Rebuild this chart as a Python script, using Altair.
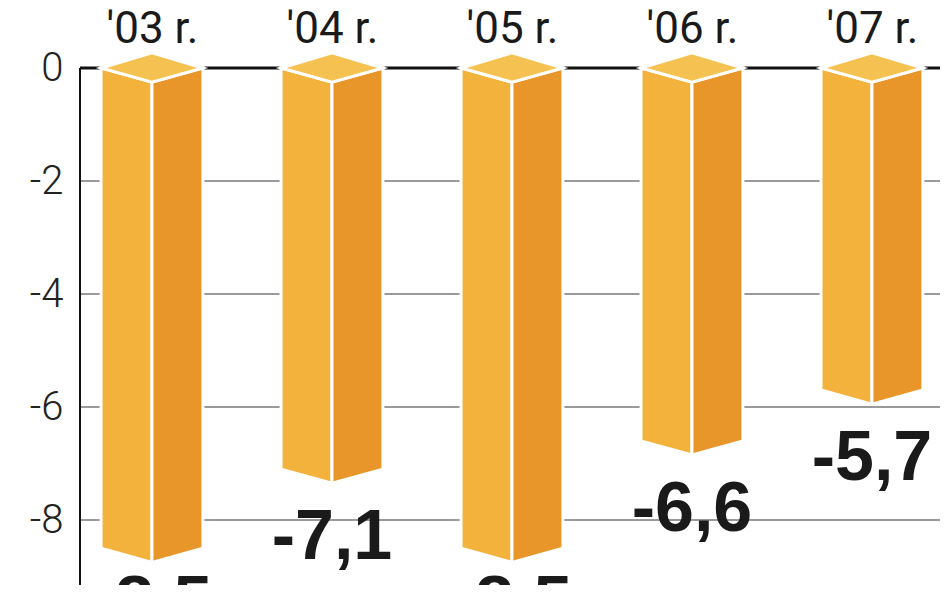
import json
import altair as alt
import pandas as pd

# ---- data ----
years = ["'03 r.", "'04 r.", "'05 r.", "'06 r.", "'07 r."]
values = [-8.5, -7.1, -8.5, -6.6, -5.7]
y_ticks = [0, -2, -4, -6, -8]
grid_values = [-2, -4, -6, -8]

# ---- geometry / style constants ----
X_DOMAIN = [-0.4, 4.378]
Y_DOMAIN = [-9.15, 0.354]
HALF_W = 0.283      # half bar width in x units
DEPTH_FRONT = 0.25  # front vertex drop (y units)
DEPTH_BACK = 0.27   # back vertex rise on the top face
C_TOP = "#F5C150"
C_LEFT = "#F2B23C"
C_RIGHT = "#E8962A"

xs = alt.Scale(domain=X_DOMAIN, nice=False, zero=False)
ys = alt.Scale(domain=Y_DOMAIN, nice=False, zero=False)

x_axis = alt.Axis(
    orient="top", values=[0, 1, 2, 3, 4], labelExpr=json.dumps(years) + "[datum.value]",
    ticks=False, tickSize=0, domain=False, grid=False, title=None,
    labelFont="Roboto", labelFontSize=44, labelColor="#1a1a1a",
    labelBaseline="alphabetic", labelPadding=6, labelOverlap=False,
)
y_axis = alt.Axis(
    values=y_ticks, labelExpr="datum.value == 0 ? '0' : '-' + abs(datum.value)",
    ticks=False, tickSize=0, domain=False, grid=False, title=None,
    labelFont="Roboto", labelFontSize=40, labelFontWeight=300, labelColor="#222222",
    labelPadding=17,
)

# ---- build face polygons from the values ----
left_rows, right_rows, top_rows, lab_rows = [], [], [], []
for i, (yr, v) in enumerate(zip(years, values)):
    c = float(i)
    left_rows += [
        {"bar": yr, "x": c - HALF_W, "y": 0.0, "y2": v},
        {"bar": yr, "x": c, "y": -DEPTH_FRONT, "y2": v - DEPTH_FRONT},
    ]
    right_rows += [
        {"bar": yr, "x": c, "y": -DEPTH_FRONT, "y2": v - DEPTH_FRONT},
        {"bar": yr, "x": c + HALF_W, "y": 0.0, "y2": v},
    ]
    top_rows += [
        {"bar": yr, "x": c - HALF_W, "y": 0.0, "y2": 0.0},
        {"bar": yr, "x": c, "y": DEPTH_BACK, "y2": -DEPTH_FRONT},
        {"bar": yr, "x": c + HALF_W, "y": 0.0, "y2": 0.0},
    ]
    lab_rows.append({"bar": yr, "x": c, "y": max(v - 0.62, -8.885),
                     "text": f"{v:.1f}".replace(".", ",")})

left_df = pd.DataFrame(left_rows)
right_df = pd.DataFrame(right_rows)
top_df = pd.DataFrame(top_rows)
lab_df = pd.DataFrame(lab_rows)
grid_df = pd.DataFrame({"y": grid_values})
zero_df = pd.DataFrame({"y": [0]})


def X(field="x"):
    return alt.X(f"{field}:Q", scale=xs, axis=x_axis)


def Y(field="y"):
    return alt.Y(f"{field}:Q", scale=ys, axis=y_axis)


grid = alt.Chart(grid_df).mark_rule(color="#9a9a9a", strokeWidth=2).encode(y=Y())
zero = alt.Chart(zero_df).mark_rule(color="#111111", strokeWidth=3).encode(y=Y())
vline = alt.Chart(zero_df).mark_rule(color="#111111", strokeWidth=2).encode(
    x=alt.datum(X_DOMAIN[0], scale=xs, axis=x_axis),
    y=alt.datum(0, scale=ys, axis=y_axis),
    y2=alt.datum(Y_DOMAIN[0]),
)


def face(df, color):
    return alt.Chart(df).mark_area(
        color=color, stroke="white", strokeWidth=3, strokeJoin="miter", opacity=1
    ).encode(x=X(), y=Y(), y2="y2:Q", detail="bar:N")


left = face(left_df, C_LEFT)
right = face(right_df, C_RIGHT)
top = face(top_df, C_TOP)

labels = alt.Chart(lab_df).mark_text(
    font="Liberation Sans", fontWeight="bold", fontSize=70, color="#1a1a1a",
    baseline="top", align="center",
).encode(x=X(), y=Y(), text="text:N")

chart = alt.layer(grid, zero, vline, left, right, top, labels).properties(
    width=860, height=537,
    autosize=alt.AutoSizeParams(type="none"),
    padding={"left": 72, "top": 40, "right": 0, "bottom": 0},
    background="white",
).configure_view(stroke=None)

chart.save("out.html", embed_options={"renderer": "svg", "actions": False})
